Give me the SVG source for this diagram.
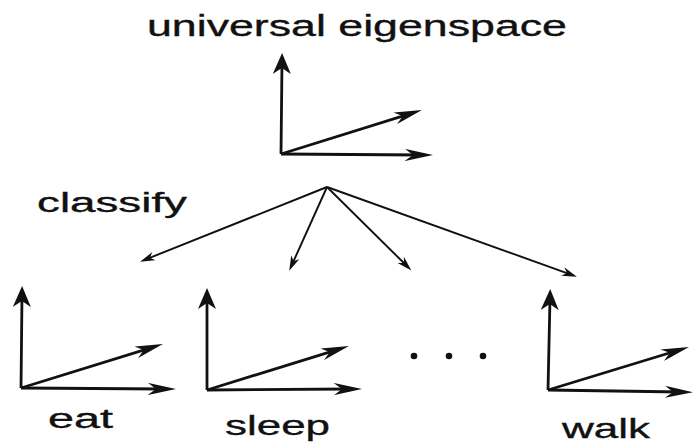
<svg xmlns="http://www.w3.org/2000/svg" width="694" height="444" viewBox="0 0 694 444">
<style>
.ax{stroke:#111;stroke-width:2.8;fill:none}
.h{marker-end:url(#bigh)}
.v{marker-end:url(#bigv)}
.cn{stroke:#111;stroke-width:1.9;fill:none;marker-end:url(#small)}
.t{font-family:"Liberation Sans",Arial,sans-serif;fill:#111;stroke:#111;stroke-width:0.35}
</style>
<defs>
<marker id="bigh" viewBox="0 0 28 12" refX="16" refY="6" markerWidth="28" markerHeight="12" markerUnits="userSpaceOnUse" orient="auto">
<path d="M28,6 L0,0 L8,6 L0,12 Z" fill="#111"/>
</marker>
<marker id="bigv" viewBox="0 0 21 18" refX="12" refY="9" markerWidth="21" markerHeight="18" markerUnits="userSpaceOnUse" orient="auto">
<path d="M21,9 L0,0 L6,9 L0,18 Z" fill="#111"/>
</marker>
<marker id="small" viewBox="0 0 15 9" refX="8" refY="4.5" markerWidth="15" markerHeight="9" markerUnits="userSpaceOnUse" orient="auto">
<path d="M15,4.5 L0,0 L4.5,4.5 L0,9 Z" fill="#111"/>
</marker>
</defs>
<rect width="694" height="444" fill="#fff"/>
<g id="universal">
<text class="t" x="147" y="36" font-size="29" textLength="420" lengthAdjust="spacingAndGlyphs">universal eigenspace</text>
<line class="ax v" x1="281" y1="154" x2="282" y2="62"/>
<line class="ax h" x1="281" y1="154" x2="421" y2="155"/>
<line class="ax h" x1="281" y1="154" x2="410.5" y2="113.6"/>
</g>
<text class="t" x="37" y="212" font-size="27" textLength="150" lengthAdjust="spacingAndGlyphs">classify</text>
<g id="eat">
<line class="ax v" x1="21" y1="388" x2="22" y2="295"/>
<line class="ax h" x1="21" y1="388" x2="164" y2="389"/>
<line class="ax h" x1="21" y1="388" x2="151.5" y2="347.6"/>
<text class="t" x="48" y="428" font-size="27" textLength="65" lengthAdjust="spacingAndGlyphs">eat</text>
</g>
<g id="sleep">
<line class="ax v" x1="207" y1="390" x2="207" y2="297"/>
<line class="ax h" x1="207" y1="390" x2="350" y2="389"/>
<line class="ax h" x1="207" y1="390" x2="337.5" y2="349.6"/>
<text class="t" x="225" y="435" font-size="28" textLength="105" lengthAdjust="spacingAndGlyphs">sleep</text>
</g>
<g id="dots" fill="#111">
<circle cx="414" cy="356" r="3.3"/>
<circle cx="449" cy="356" r="3.3"/>
<circle cx="483" cy="356" r="3.3"/>
</g>
<g id="walk">
<line class="ax v" x1="548" y1="390" x2="550" y2="298"/>
<line class="ax h" x1="548" y1="390" x2="681" y2="392"/>
<line class="ax h" x1="548" y1="390" x2="677.5" y2="350.5"/>
<text class="t" x="562" y="438" font-size="28" textLength="88" lengthAdjust="spacingAndGlyphs">walk</text>
</g>
<g id="connectors">
<line class="cn" x1="327" y1="187" x2="146.6" y2="259.1"/>
<line class="cn" x1="327" y1="187" x2="292.1" y2="264.4"/>
<line class="cn" x1="327" y1="187" x2="406.4" y2="265.5"/>
<line class="cn" x1="327" y1="187" x2="570.3" y2="274.3"/>
</g>
</svg>
